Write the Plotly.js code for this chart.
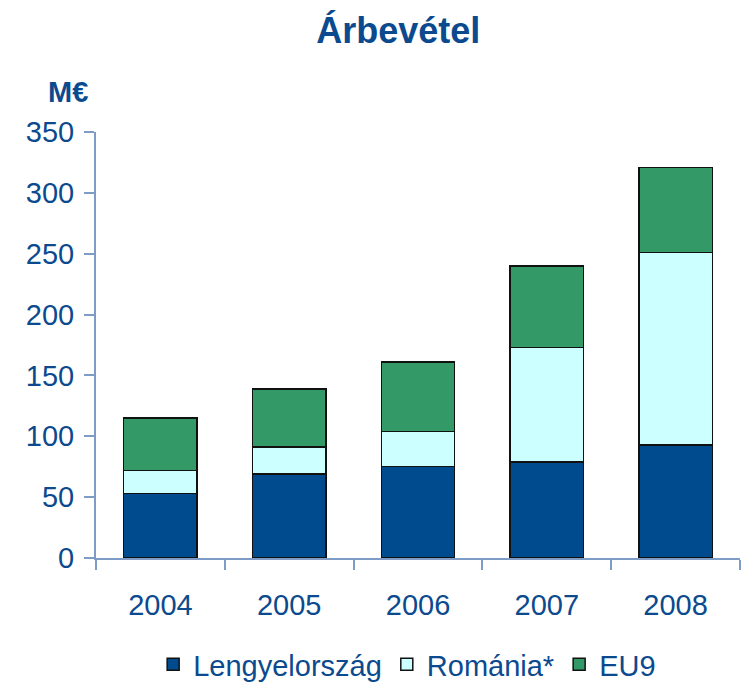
<!DOCTYPE html>
<html>
<head>
<meta charset="utf-8">
<script src="https://cdn.plot.ly/plotly-3.0.1.min.js"></script>
<style>
  html, body { margin: 0; padding: 0; background: #fff; }
  #chart { width: 743px; height: 690px; }
</style>
</head>
<body>
<div id="chart"></div>
<script>
// Years on the x axis
const years = ["2004", "2005", "2006", "2007", "2008"];

// Revenue by region, M€
const poland = [53, 69, 75, 79, 93];
const romania = [19, 22, 29, 94, 158];
const eu9 = [43, 48, 57, 67, 70];

const textBlue = "#0b4a8e";
const axisBlue = "#7f9cc6";

function barTrace(name, values, color) {
    return {
        type: "bar",
        name: name,
        x: years,
        y: values,
        marker: {
            color: color,
            line: { color: "#111111", width: 1.5 }
        },
        hoverinfo: "y+name"
    };
}

const data = [
    barTrace("Lengyelország", poland, "#004a8e"),
    barTrace("Románia*", romania, "#ccffff"),
    barTrace("EU9", eu9, "#339966")
];

Plotly.newPlot("chart", data, {
    width: 743,
    height: 690,
    barmode: "stack",
    bargap: 0.43,
    margin: { l: 96, r: 3, t: 132, b: 132, autoexpand: false },
    plot_bgcolor: "#ffffff",
    paper_bgcolor: "#ffffff",
    showlegend: true,

    font: {
        family: "Liberation Sans, Arial, sans-serif",
        color: textBlue,
        size: 29
    },

    title: {
        text: "<b>Árbevétel</b>",
        font: { size: 36, color: textBlue },
        xref: "container",
        x: 0.536,
        xanchor: "center",
        yref: "container",
        y: 0.956,
        yanchor: "middle"
    },

    xaxis: {
        type: "category",
        range: [-0.5, 4.5],
        showline: true,
        linecolor: axisBlue,
        linewidth: 2,
        ticks: "outside",
        tickson: "boundaries",
        ticklen: 10,
        tickwidth: 2,
        tickcolor: axisBlue,
        ticklabelstandoff: 20,
        showgrid: false,
        zeroline: false,
        automargin: false,
        tickfont: { size: 29, color: textBlue }
    },

    yaxis: {
        range: [0, 350],
        dtick: 50,
        showline: true,
        linecolor: axisBlue,
        linewidth: 2,
        ticks: "outside",
        ticklen: 10,
        tickwidth: 2,
        tickcolor: axisBlue,
        ticklabelstandoff: 4,
        showgrid: false,
        zeroline: false,
        automargin: false,
        tickfont: { size: 29, color: textBlue }
    },

    legend: {
        orientation: "h",
        xref: "container",
        x: 0.548,
        xanchor: "center",
        yref: "container",
        y: 0.0,
        yanchor: "bottom",
        traceorder: "normal",
        font: { size: 29, color: textBlue },
        itemwidth: 30,
        tracegroupgap: 0
    },

    annotations: [{
        text: "<b>M€</b>",
        xref: "paper",
        yref: "paper",
        x: -0.009,
        xanchor: "right",
        y: 1.094,
        yanchor: "middle",
        showarrow: false,
        font: { size: 29, color: textBlue }
    }]
}, { displayModeBar: false, staticPlot: true });
</script>
</body>
</html>
